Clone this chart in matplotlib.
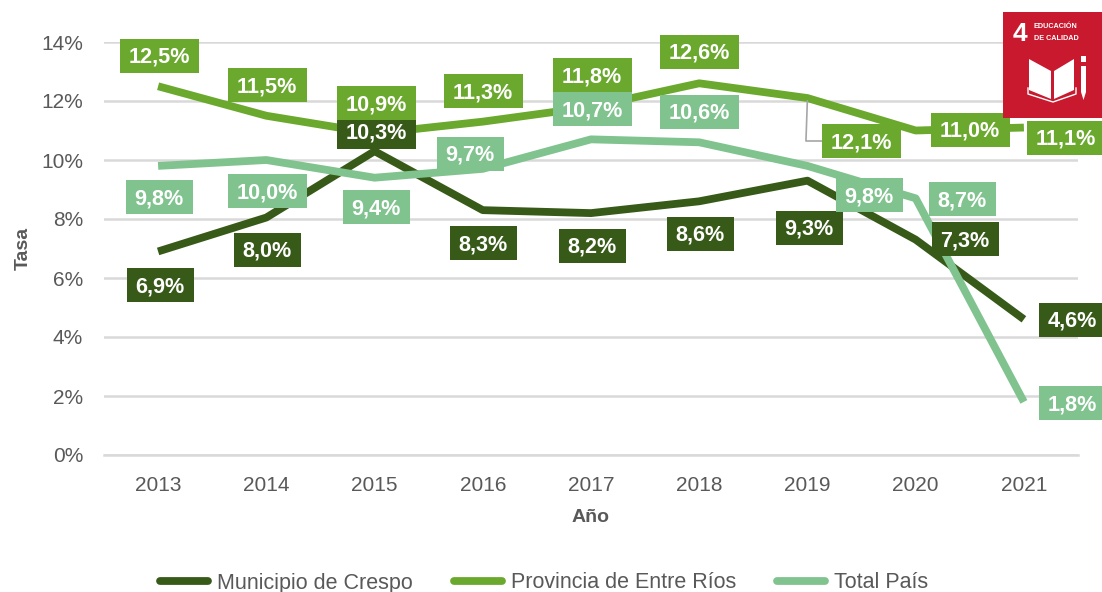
import matplotlib
matplotlib.use("Agg")
import matplotlib.pyplot as plt
from matplotlib.patches import Rectangle, Polygon
from matplotlib.transforms import IdentityTransform

plt.rcParams["font.family"] = ["Liberation Sans", "DejaVu Sans"]

years = ["2013", "2014", "2015", "2016", "2017", "2018", "2019", "2020", "2021"]
crespo = [6.9, 8.05, 10.3, 8.3, 8.2, 8.6, 9.3, 7.3, 4.6]
entre_rios = [12.5, 11.5, 10.9, 11.3, 11.8, 12.6, 12.1, 11.0, 11.1]
pais = [9.8, 10.0, 9.4, 9.7, 10.7, 10.6, 9.8, 8.7, 1.8]

crespo_labels = ["6,9%", "8,0%", "10,3%", "8,3%", "8,2%", "8,6%", "9,3%", "7,3%", "4,6%"]
entre_rios_labels = ["12,5%", "11,5%", "10,9%", "11,3%", "11,8%", "12,6%", "12,1%", "11,0%", "11,1%"]
pais_labels = ["9,8%", "10,0%", "9,4%", "9,7%", "10,7%", "10,6%", "9,8%", "8,7%", "1,8%"]

# label centres, in pixels from the top left of the picture
crespo_pos = [(160, 285), (267, 250), (376, 132), (483, 243), (592, 246), (700, 234), (809, 228), (965, 239), (1072, 320)]
entre_rios_pos = [(159, 56), (267, 85), (376, 103), (483, 91), (592, 75), (699, 52), (861, 141), (970, 130), (1066, 138)]
pais_pos = [(159, 197), (267, 191), (376, 207), (470, 154), (592, 109), (699, 112), (869, 195), (962, 199), (1072, 403)]

dark = "#375A19"
mid = "#6AA92E"
light = "#80C38F"
grey = "#595959"

W = 1102
H = 592
fig = plt.figure(figsize=(W / 100, H / 100), dpi=100)
ax = fig.add_axes([104 / W, 1 - 455 / H, (1078 - 104) / W, (455 - 42) / H])

x = list(range(len(years)))
ax.plot(x, crespo, color=dark, lw=5.6, label="Municipio de Crespo", zorder=3, solid_capstyle="butt")
ax.plot(x, entre_rios, color=mid, lw=5.6, label="Provincia de Entre Ríos", zorder=3, solid_capstyle="butt")
ax.plot(x, pais, color=light, lw=5.6, label="Total País", zorder=3, solid_capstyle="butt")

ax.set_xlim(-0.5, 8.5)
ax.set_ylim(0, 14)
ax.set_yticks(range(0, 15, 2))
ax.set_yticklabels([f"{v}%" for v in range(0, 15, 2)])
ax.set_xticks(x)
ax.set_xticklabels(years)
ax.tick_params(length=0, labelsize=15, labelcolor=grey, pad=15)
ax.grid(axis="y", color="#D9D9D9", lw=1.8)
ax.set_axisbelow(True)
for s in ["top", "right", "left"]:
    ax.spines[s].set_visible(False)
ax.spines["bottom"].set_color("#D9D9D9")
ax.spines["bottom"].set_linewidth(1.8)

fig.text(23 / W, 1 - 248 / H, "Tasa", rotation=90, ha="center", va="center", fontsize=14, fontweight="bold", color=grey)
fig.text(591 / W, 1 - 518 / H, "Año", ha="center", va="center", fontsize=14, fontweight="bold", color=grey)

# leader line of the moved label
ax.annotate("", xy=(6, 12.1), xytext=(826, H - 141), textcoords="figure pixels",
            arrowprops=dict(arrowstyle="-", color="#A6A6A6", lw=1.2, connectionstyle="angle,angleA=0,angleB=88,rad=0"), zorder=4)

# boxes are drawn in pixels so that their size does not follow the text
z = 5
for labels, pos, color in [(crespo_labels, crespo_pos, dark),
                           (entre_rios_labels, entre_rios_pos, mid),
                           (pais_labels, pais_pos, light)]:
    for i in range(len(years)):
        w = 79 if len(labels[i]) == 5 else 67
        cx = pos[i][0]
        cy = H - pos[i][1]
        ax.add_patch(Rectangle((cx - w / 2, cy - 17), w, 34, fc=color, ec="none", transform=IdentityTransform(),
                               clip_on=False, zorder=z))
        ax.annotate(labels[i], xy=(cx, cy - 1.5), xycoords="figure pixels", ha="center", va="center", color="white",
                    fontsize=15.6, fontweight="bold", zorder=z + 0.5, annotation_clip=False)
    z += 1

leg = fig.legend(loc="center", bbox_to_anchor=(544 / W, 1 - 583 / H), ncol=3, frameon=False, fontsize=15.5,
                 handlelength=2.25, handletextpad=0.4, columnspacing=1.9, labelcolor=grey)
for line in leg.get_lines():
    line.set_solid_capstyle("round")
    line.set_linewidth(5.6)

# SDG 4 icon, drawn in picture pixels
icon = fig.add_axes([1003 / W, 1 - 118 / H, 99 / W, 106 / H])
icon.set_xlim(1003, 1102)
icon.set_ylim(118, 12)
icon.axis("off")
icon.add_patch(Rectangle((1003, 12), 99, 106, fc="#C8192E", ec="none"))
icon.text(1019.5, 34, "4", color="white", fontsize=19, fontweight="bold", ha="center", va="center")
icon.text(1034, 26, "EDUCACIÓN", color="white", fontsize=5.2, fontweight="bold", ha="left", va="center")
icon.text(1034, 38, "DE CALIDAD", color="white", fontsize=5.2, fontweight="bold", ha="left", va="center")
icon.add_patch(Polygon([(1029, 59), (1051, 71), (1051, 99), (1029, 90)], fc="white", ec="none"))
icon.add_patch(Polygon([(1054, 71), (1074, 59), (1074, 90), (1054, 99)], fc="white", ec="none"))
icon.plot([1028, 1028, 1053, 1076, 1076], [88, 94, 102, 94, 88], color="white", lw=1)
icon.add_patch(Polygon([(1081, 66), (1086, 66), (1086, 92), (1083.5, 100), (1081, 92)], fc="white", ec="none"))
icon.add_patch(Rectangle((1081, 56), 5, 6, fc="white", ec="none"))

plt.savefig("out.png", dpi=100)
